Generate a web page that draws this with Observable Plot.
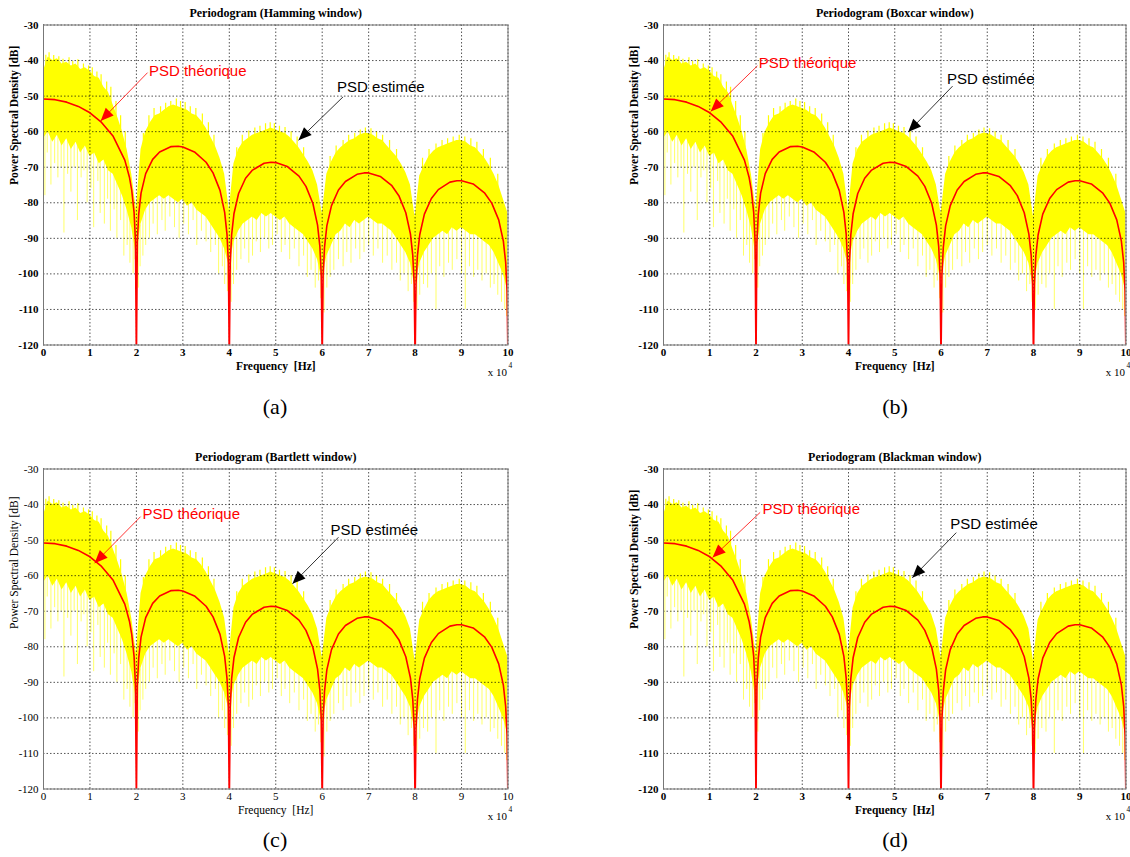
<!DOCTYPE html>
<html>
<head>
<meta charset="utf-8">
<script src="https://cdn.jsdelivr.net/npm/d3@7"></script>
<script src="https://cdn.jsdelivr.net/npm/@observablehq/plot@0.6"></script>
<style>
  html, body { margin: 0; padding: 0; background: #fff; }
  #root { position: relative; width: 1130px; height: 857px; overflow: hidden; background: #fff; }
  .panel { position: absolute; }
  .caption { position: absolute; font-family: "Liberation Serif", serif; font-size: 22px; color: #000; transform: translate(-50%, -50%); white-space: nowrap; }
</style>
</head>
<body>
<div id="root"></div>
<script>
// ---------- data ----------
const xTicks = [0, 1, 2, 3, 4, 5, 6, 7, 8, 9, 10];          // x 10^4 Hz
const yTicks = [-30, -40, -50, -60, -70, -80, -90, -100, -110, -120];

// Theoretical PSD (red), frequency in units of 10^4 Hz, value in dB
const theoF = [0, 0.25, 0.5, 0.75, 1.0, 1.25, 1.5, 1.75, 1.85, 1.9, 1.95, 1.98, 2.0,
  2.02, 2.05, 2.1, 2.2, 2.35, 2.5, 2.75, 2.9, 3.0, 3.25, 3.5, 3.65, 3.8, 3.9, 3.95, 3.98, 4.0,
  4.02, 4.05, 4.1, 4.2, 4.35, 4.5, 4.75, 4.9, 5.0, 5.25, 5.5, 5.65, 5.8, 5.9, 5.95, 5.98, 6.0,
  6.02, 6.05, 6.1, 6.2, 6.35, 6.5, 6.75, 6.9, 7.0, 7.25, 7.5, 7.65, 7.8, 7.9, 7.95, 7.98, 8.0,
  8.02, 8.05, 8.1, 8.2, 8.35, 8.5, 8.75, 8.9, 9.0, 9.25, 9.5, 9.65, 9.8, 9.9, 9.95, 9.98, 10.0];
const theoDb = [-50.8, -51.0, -51.7, -52.9, -54.7, -57.4, -61.3, -68.0, -72.8, -76.5, -82.7, -90.8, -125,
  -91.0, -83.1, -77.3, -71.8, -67.8, -65.7, -64.2, -64.1, -64.3, -65.7, -68.6, -71.6, -76.5, -82.7, -88.8, -96.8, -125,
  -96.9, -89.0, -83.1, -77.4, -73.1, -70.8, -68.9, -68.6, -68.7, -69.8, -72.5, -75.4, -80.2, -86.3, -92.3, -100.3, -125,
  -100.4, -92.5, -86.5, -80.8, -76.4, -74.0, -72.0, -71.6, -71.6, -72.6, -75.2, -78.0, -82.8, -88.8, -94.8, -102.8, -125,
  -102.9, -94.9, -89.0, -83.2, -78.8, -76.3, -74.2, -73.8, -73.8, -74.7, -77.3, -80.1, -84.8, -90.8, -96.8, -104.8, -125];

// Estimated PSD (yellow): upper and lower edge of the dense band, every 0.1 (x 10^4 Hz)
const estUpper = [-43, -39, -40, -39.5, -41, -40.5, -41.5, -41, -42.5, -42,
  -43, -44.5, -45, -47.5, -49, -52.5, -56, -60, -65, -72,
  -82, -65, -60, -57.5, -55.5, -55, -54, -53, -52.5, -53,
  -53.5, -54, -55, -55.5, -57, -59, -61.5, -64, -67.5, -72,
  -82, -69, -65, -63, -62, -61, -60.5, -60, -59.5, -59,
  -59.5, -60, -60.5, -61.5, -63, -64.5, -66.5, -68.5, -71, -75,
  -83, -72, -68.5, -66, -64.5, -63.5, -62.5, -62, -61, -60.5,
  -60.5, -61, -62, -62.5, -64, -65.5, -67, -69, -71.5, -75,
  -84, -72.5, -69.5, -67, -65.5, -64.5, -64, -63.5, -63, -62.5,
  -62.5, -63, -64, -64.5, -66, -67.5, -69.5, -72, -75, -79, -83];
const estLower = [-62, -60, -63, -61, -64, -62, -65, -63, -66, -64,
  -67, -66, -69, -68, -71, -72, -75, -78, -82, -87,
  -95, -86, -82, -80, -79, -78, -79, -78, -79, -80,
  -79, -81, -80, -82, -83, -84, -86, -88, -90, -93,
  -98, -91, -88, -86, -85, -84, -85, -83, -84, -83,
  -84, -85, -84, -86, -87, -88, -89, -91, -93, -96,
  -102, -95, -92, -89, -88, -86, -87, -85, -86, -85,
  -84, -85, -86, -86, -87, -88, -90, -92, -94, -97,
  -104, -97, -94, -92, -90, -89, -88, -89, -87, -88,
  -87, -88, -89, -89, -90, -91, -92, -94, -97, -100, -105];

// Isolated spikes of the estimate: [frequency, dB]
const spikesUp = [[0.05,-38.5],[0.12,-37.8],[0.22,-38.6],[0.33,-38.9],[0.42,-39.6],[0.55,-39.2],[0.63,-40.3],[0.74,-39.8],[0.86,-41],[0.97,-41.5],
  [1.05,-42],[1.15,-43.2],[1.24,-44],[1.36,-46],[1.45,-47.5],[1.56,-51.5],[1.66,-55.5],[1.76,-60],
  [2.15,-60.5],[2.27,-55.5],[2.38,-53.5],[2.52,-53],[2.63,-52],[2.74,-51.5],[2.86,-50.8],[2.95,-51.5],[3.05,-51.8],[3.16,-53],[3.28,-53.5],[3.42,-55],[3.55,-57.5],[3.67,-61],
  [4.16,-64.5],[4.28,-61],[4.42,-59.8],[4.55,-59],[4.66,-58.5],[4.78,-57.8],[4.88,-57.5],[4.97,-57.8],[5.08,-58.5],[5.2,-58.8],[5.33,-60],[5.46,-61.5],[5.6,-64.5],
  [6.17,-67],[6.3,-64],[6.45,-62.5],[6.57,-61],[6.7,-60.5],[6.82,-59.5],[6.93,-59],[7.05,-59.2],[7.17,-60],[7.3,-61],[7.45,-62.5],[7.6,-65],
  [8.16,-67.5],[8.3,-65],[8.45,-63.5],[8.58,-62.5],[8.7,-62],[8.82,-61.5],[8.95,-61],[9.07,-61.5],[9.2,-62],[9.33,-63],[9.47,-65],[9.62,-67.5],[9.78,-72]];
const spikesDown = [[0.03,-78],[0.08,-66],[0.16,-75],[0.24,-69],[0.31,-73],[0.38,-70],[0.44,-88.5],[0.52,-72],[0.59,-77],[0.66,-70],[0.73,-85],[0.81,-73],[0.87,-71],[0.94,-80],
  [1.02,-76],[1.08,-87],[1.17,-74],[1.22,-83],[1.31,-86],[1.38,-79],[1.44,-88],[1.52,-82],[1.58,-90],[1.66,-85],[1.73,-95],[1.8,-92],[1.86,-97],[1.93,-100],[1.97,-96],
  [2.04,-104],[2.08,-98],[2.14,-95],[2.2,-92],[2.28,-90],[2.36,-86],[2.45,-89],[2.55,-85],[2.62,-88],[2.72,-84],[2.82,-87],[2.92,-90],[3.02,-86],[3.12,-89],[3.22,-85],[3.3,-92],[3.4,-88],[3.5,-91],[3.6,-94],[3.7,-92],[3.77,-100],[3.85,-98],[3.9,-103],[3.96,-105],
  [4.04,-108],[4.09,-103],[4.16,-99],[4.25,-96],[4.33,-93],[4.42,-97],[4.5,-95],[4.58,-91],[4.67,-94],[4.76,-90],[4.85,-93],[4.93,-92],[5.03,-89],[5.12,-94],[5.2,-92],[5.3,-96],[5.4,-93],[5.5,-98],[5.6,-95],[5.68,-101],[5.76,-99],[5.85,-104],[5.92,-102],[5.97,-107],
  [6.04,-111],[6.1,-104],[6.17,-101],[6.25,-99],[6.35,-96],[6.45,-98],[6.53,-94],[6.62,-97],[6.72,-93],[6.81,-96],[6.9,-94],[7.0,-92],[7.1,-95],[7.2,-93],[7.3,-97],[7.4,-95],[7.5,-99],[7.6,-97],[7.68,-102],[7.76,-100],[7.85,-105],[7.92,-103],[7.97,-108],
  [8.04,-110],[8.1,-106],[8.18,-103],[8.27,-104],[8.35,-100],[8.45,-110],[8.53,-98],[8.62,-101],[8.72,-97],[8.8,-99],[8.9,-96],[9.0,-100],[9.08,-110],[9.17,-98],[9.26,-101],[9.35,-99],[9.44,-102],[9.53,-100],[9.62,-104],[9.7,-103],[9.78,-106],[9.86,-108],[9.93,-110],[9.97,-112]];

// Panel texts
const panelTitles = ["Periodogram (Hamming window)", "Periodogram (Boxcar window)", "Periodogram (Bartlett window)", "Periodogram (Blackman window)"];
const panelCaptions = ["(a)", "(b)", "(c)", "(d)"];
const xLabel = "Frequency  [Hz]";
const yLabel = "Power Spectral Density [dB]";
const theoLabel = "PSD théorique";
const estLabel = "PSD estimée";
// Annotation anchors per panel: [text x, text y, line start x, line start y, tip x, tip y]
const theoAnn = [[2.27,-43.0,2.24,-43.4,1.23,-57.0],[2.06,-40.8,2.03,-41.5,1.02,-54.3],[2.13,-42.8,2.09,-43.4,1.10,-56.5],[2.14,-41.4,2.09,-42.2,1.06,-54.9]];
const estAnn  = [[6.32,-47.4,6.45,-50.2,5.49,-62.4],[6.13,-45.3,6.25,-47.2,5.29,-60.1],[6.18,-47.1,6.35,-49.2,5.36,-62.3],[6.20,-45.6,6.33,-47.9,5.38,-60.6]];

// ---------- build ----------
const estF = estUpper.map((_, i) => i / 10);
const theo = theoF.map((f, i) => ({f, v: theoDb[i]}));
const est = estF.map((f, i) => ({f, hi: estUpper[i], lo: estLower[i]}));
const at = (arr, f) => { const i = Math.min(Math.floor(f * 10), 99); const t = f * 10 - i; return arr[i] * (1 - t) + arr[i + 1] * t; };
const up = spikesUp.map(([f, v]) => ({f, v, base: at(estUpper, f) - 1.5}));
const down = spikesDown.map(([f, v]) => ({f, v, base: at(estLower, f) + 1.5}));

const root = document.getElementById("root");
const layouts = [
  {left: 0,   top: 0,   width: 540, ml: 43, mr: 32.5, cx: 275, cy: 407, bold: true},
  {left: 565, top: 0,   width: 565, ml: 98, mr: 4.5,  cx: 895, cy: 407, bold: true},
  {left: 0,   top: 444, width: 540, ml: 43, mr: 32.5, cx: 275, cy: 840, bold: false},
  {left: 565, top: 444, width: 565, ml: 98, mr: 4.5,  cx: 895, cy: 840, bold: true}
];
const H = 380, MT = 24.5, MB = 35.5;
const serif = "Liberation Serif, Times New Roman, serif";
const sans = "Liberation Sans, Arial, sans-serif";

layouts.forEach((L, k) => {
  const kx = (L.width - L.ml - L.mr) / 10, ky = (H - MT - MB) / 90;
  const lw = L.bold ? "bold" : "normal";
  const mk = (a, color) => ({x1: a[2], y1: a[3], x2: a[4], y2: a[5], tx: a[0], ty: a[1],
    rot: Math.atan2((a[4] - a[2]) * kx, (a[5] - a[3]) * ky) * 180 / Math.PI, color});
  const anns = [mk(theoAnn[k], "#ff0000"), mk(estAnn[k], "#000000")];
  const texts = [{x: theoAnn[k][0], y: theoAnn[k][1], t: theoLabel, c: "#ff0000"}, {x: estAnn[k][0], y: estAnn[k][1], t: estLabel, c: "#000000"}];

  const chart = Plot.plot({
    width: L.width, height: H,
    marginLeft: L.ml, marginRight: L.mr, marginTop: MT, marginBottom: MB,
    x: {domain: [0, 10]},
    y: {domain: [-120, -30]},
    style: {fontFamily: serif, fontSize: "11px", background: "transparent", overflow: "visible", color: "#000"},
    marks: [
      Plot.ruleX(down, {x: "f", y1: "base", y2: "v", stroke: "#ffff66", strokeWidth: 1, clip: true}),
      Plot.ruleX(up, {x: "f", y1: "base", y2: "v", stroke: "#ffff00", strokeWidth: 1.2, clip: true}),
      Plot.areaY(est, {x: "f", y1: "lo", y2: "hi", fill: "#ffff00", clip: true}),
      Plot.gridX({ticks: xTicks, stroke: "#000", strokeOpacity: 0.85, strokeWidth: 0.8, strokeDasharray: "1.5,2"}),
      Plot.gridY({ticks: yTicks, stroke: "#000", strokeOpacity: 0.85, strokeWidth: 0.8, strokeDasharray: "1.5,2"}),
      Plot.line(theo, {x: "f", y: "v", stroke: "#ff0000", strokeWidth: 1.6, clip: true}),
      Plot.frame({stroke: "#777", strokeWidth: 1}),
      Plot.axisX({ticks: xTicks, tickSize: 0, tickPadding: 3, tickFormat: d => String(d), fontWeight: lw, fontSize: 11, fontFamily: serif, label: null}),
      Plot.axisY({ticks: yTicks, tickSize: 0, tickPadding: 5, tickFormat: d => String(d), fontWeight: lw, fontSize: 11, fontFamily: serif, label: null}),
      Plot.text([panelTitles[k]], {text: d => d, frameAnchor: "top", dy: -12, fontWeight: "bold", fontSize: 12, fontFamily: serif, lineAnchor: "middle"}),
      Plot.text([xLabel], {text: d => d, frameAnchor: "bottom", dy: 21, fontWeight: lw, fontSize: 11.5, fontFamily: serif, lineAnchor: "middle"}),
      Plot.text(["x 10"], {text: d => d, frameAnchor: "bottom-right", dx: -1, dy: 27, textAnchor: "end", fontSize: 11, fontFamily: serif, lineAnchor: "middle"}),
      Plot.text(["4"], {text: d => d, frameAnchor: "bottom-right", dx: 0.5, dy: 21, textAnchor: "start", fontSize: 7.5, fontFamily: serif, lineAnchor: "middle"}),
      Plot.text([yLabel], {text: d => d, frameAnchor: "left", dx: -29, rotate: -90, fontWeight: lw, fontSize: 11.5, fontFamily: serif, lineAnchor: "middle"}),
      Plot.link(anns, {x1: "x1", y1: "y1", x2: "x2", y2: "y2", stroke: "color", strokeWidth: 0.8}),
      Plot.vector(anns, {x: "x2", y: "y2", rotate: "rot", length: 13, r: 5.5, shape: "spike", anchor: "end", fill: "color", stroke: "none"}),
      Plot.text(texts, {x: "x", y: "y", text: "t", fill: "c", textAnchor: "start", lineAnchor: "middle", fontSize: 15, fontFamily: sans})
    ]
  });
  const div = document.createElement("div");
  div.className = "panel";
  div.style.left = L.left + "px";
  div.style.top = L.top + "px";
  div.appendChild(chart);
  root.appendChild(div);

  const cap = document.createElement("div");
  cap.className = "caption";
  cap.style.left = L.cx + "px";
  cap.style.top = L.cy + "px";
  cap.textContent = panelCaptions[k];
  root.appendChild(cap);
});
</script>
</body>
</html>
